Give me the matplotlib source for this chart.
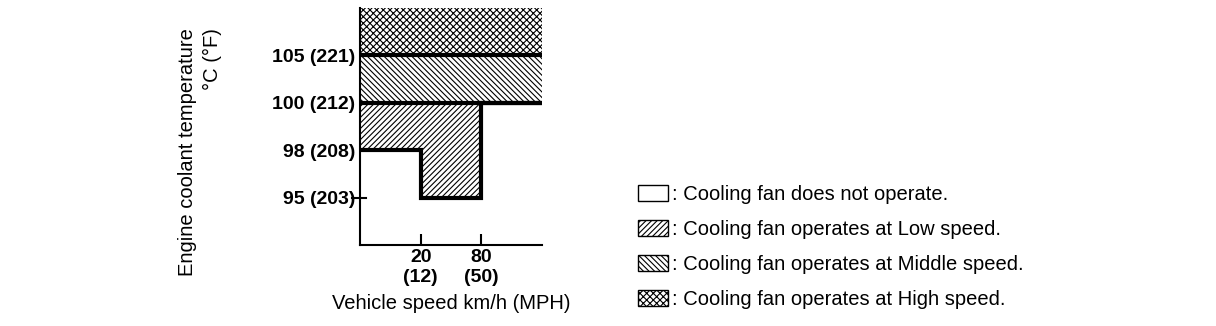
import matplotlib
import matplotlib.pyplot as plt
from matplotlib.patches import Patch

matplotlib.use("Agg")

# engine coolant temperature levels
temp_c = [95, 98, 100, 105]
temp_f = [203, 208, 212, 221]

# vehicle speed break points
speed_kmh = [20, 80]
speed_mph = [12, 50]

# fan zones (lower temperature bound for low speed, per speed band:
# below 20 km/h, 20-80 km/h, above 80 km/h)
low_from = [98, 95, 100]
low_to = 100
mid_from = 100
high_from = 105

legend_labels = [
    ": Cooling fan does not operate.",
    ": Cooling fan operates at Low speed.",
    ": Cooling fan operates at Middle speed.",
    ": Cooling fan operates at High speed.",
]
legend_hatches = ["", "//////", "\\" * 6, "xxxxx"]

plt.rcParams["font.family"] = ["Liberation Sans", "DejaVu Sans"]
plt.rcParams["hatch.linewidth"] = 0.8

fig = plt.figure(figsize=(12.16, 3.26), dpi=100)
ax = fig.add_axes([360 / 1216, 81 / 326, 182 / 1216, 237 / 326])

# ordinal positions along both axes
ypos = {t: i + 1 for i, t in enumerate(temp_c)}
ytop = len(temp_c) + 1
xedges = list(range(len(speed_kmh) + 2))
xmax = xedges[-1]

# zones
low_lower = [ypos[t] for t in low_from] + [ypos[low_from[-1]]]
ax.fill_between(xedges, low_lower, ypos[low_to], step="post",
                facecolor="white", edgecolor="black", hatch=legend_hatches[1],
                linewidth=0)
ax.fill_between([0, xmax], ypos[mid_from], ypos[high_from],
                facecolor="white", edgecolor="black", hatch=legend_hatches[2],
                linewidth=0)
ax.fill_between([0, xmax], ypos[high_from], ytop,
                facecolor="white", edgecolor="black", hatch=legend_hatches[3],
                linewidth=0)

# boundaries
ax.step(xedges, low_lower, where="post", color="black", linewidth=3,
        solid_joinstyle="miter")
ax.axhline(ypos[mid_from], color="black", linewidth=3)
ax.axhline(ypos[high_from], color="black", linewidth=3)

ax.set_xlim(0, xmax)
ax.set_ylim(0, ytop)

for side in ["top", "right"]:
    ax.spines[side].set_visible(False)
for side in ["left", "bottom"]:
    ax.spines[side].set_linewidth(1.5)

ax.set_yticks([ypos[t] for t in temp_c])
ax.set_yticklabels([f"{c} ({f})" for c, f in zip(temp_c, temp_f)],
                   fontsize=14, fontweight="bold")
ax.tick_params(axis="y", length=0, pad=3.5)
# single tick mark at the lowest temperature level
ax.plot([-0.045, 0.035], [ypos[temp_c[0]]] * 2, color="black", linewidth=1.5,
        transform=ax.get_yaxis_transform(), clip_on=False)

ax.set_xticks(xedges[1:-1])
ax.set_xticklabels([f"{k}\n({m})" for k, m in zip(speed_kmh, speed_mph)],
                   fontsize=14, fontweight="bold", linespacing=1.2)
ax.tick_params(axis="x", direction="in", length=8, width=1.5, pad=3)

ax.set_xlabel("Vehicle speed km/h (MPH)", fontsize=14.5, labelpad=6)

fig.text(200 / 1216, 1 - 28 / 326, "Engine coolant temperature\n°C (°F)",
         rotation=90, ha="center", va="top", multialignment="right",
         fontsize=14.5, linespacing=1.45)

handles = [Patch(facecolor="white", edgecolor="black", hatch=h, linewidth=1)
           for h in legend_hatches]
fig.legend(handles, legend_labels, loc="upper left",
           bbox_to_anchor=(638 / 1216, 1 - 185 / 326), frameon=False,
           fontsize=14.5, handlelength=1.5, handleheight=0.85,
           handletextpad=0.2, labelspacing=0.8, borderpad=0,
           borderaxespad=0)

plt.savefig("out.png", dpi=100)
plt.close()
